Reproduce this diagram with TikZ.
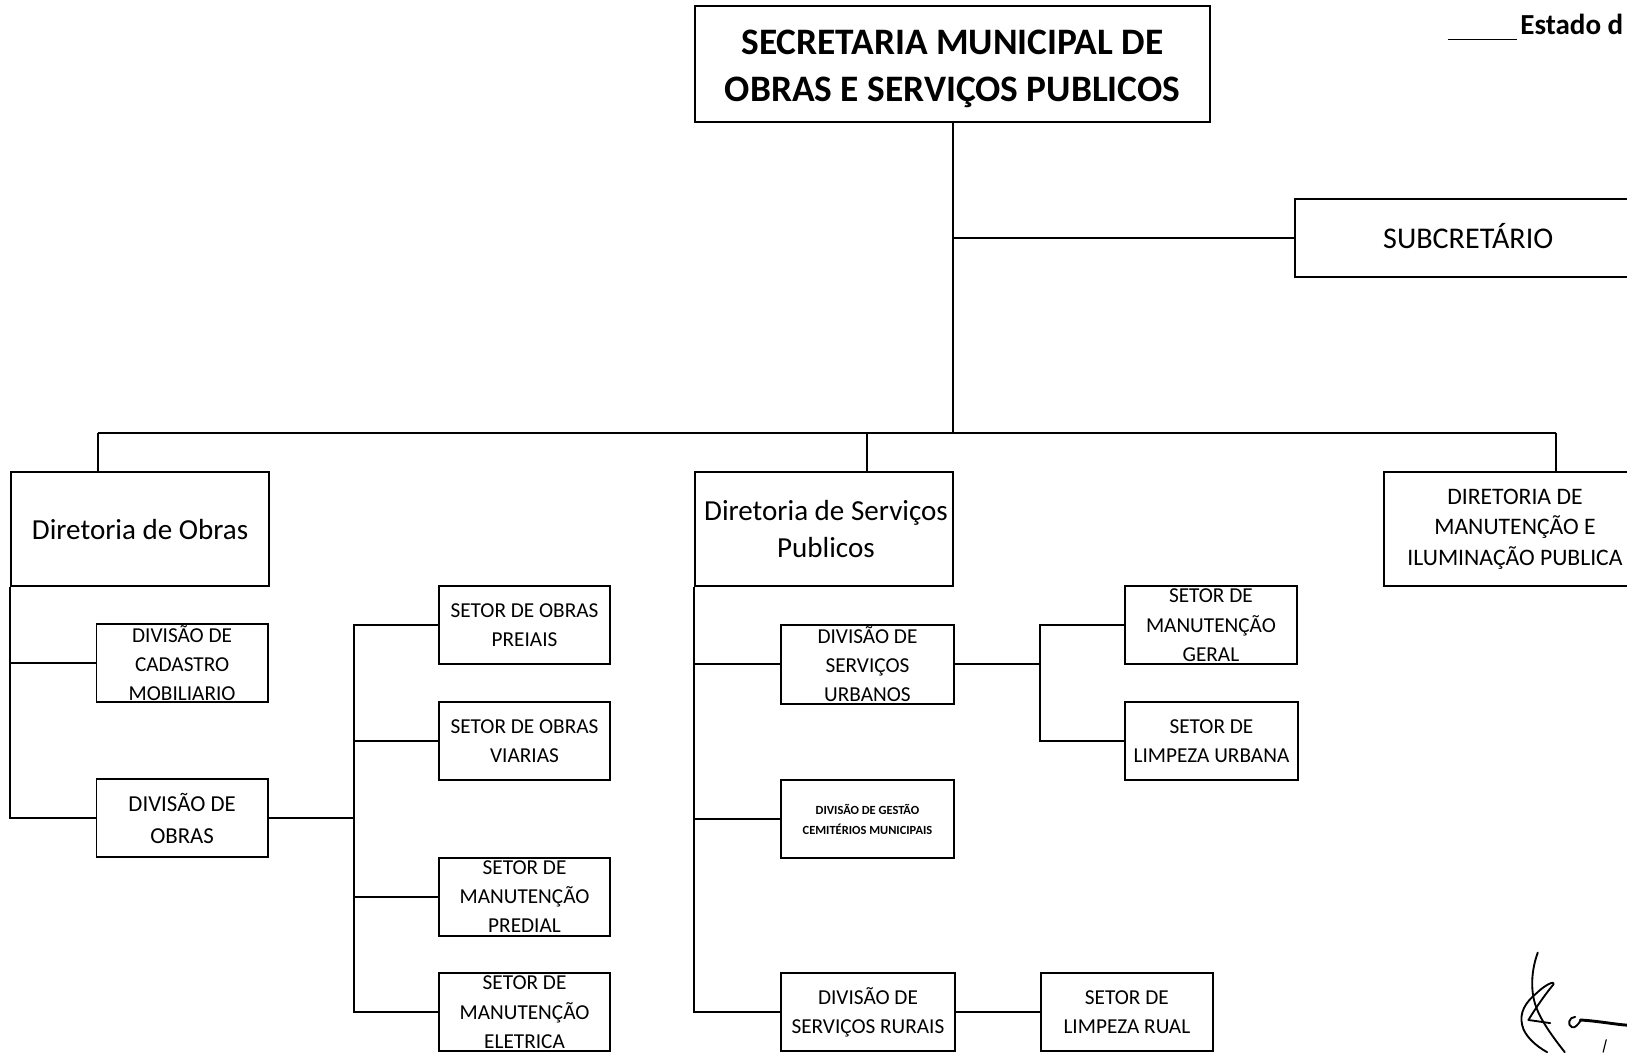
\documentclass[tikz,border=0pt]{standalone}
\usepackage{fontspec}
\setmainfont{Carlito}
\begin{document}
\begin{tikzpicture}[x=1pt,y=-1pt,
  box/.style={draw, line width=1.9pt, inner sep=0pt, align=center},
  bigbox/.style={box, minimum width=248pt, minimum height=110pt},
  smallbox/.style={box, minimum width=165pt, minimum height=75pt, font=\fontsize{20.5}{28}\selectfont},
  link/.style={line width=1.9pt},
  sig/.style={line width=1.8pt, line cap=round, line join=round}]
\useasboundingbox (0,0) rectangle (1568,1014);
\clip (0,0) rectangle (1568,1014);
\fill[white] (0,0) rectangle (1568,1014);

% header
\draw[line width=1.6pt] (1395,38) -- (1462,38);
\node[anchor=base west, inner sep=0pt, font=\bfseries\fontsize{28}{32}\selectfont] (estado) at (1465,33) {Estado d};

% top level
\node[box, minimum width=496pt, minimum height=112pt, font=\bfseries\fontsize{36}{45}\selectfont] (sec) at (918,62)
  {\rule{0pt}{32pt}SECRETARIA MUNICIPAL DE\\OBRAS E SERVIÇOS PUBLICOS};
\node[box, minimum width=334pt, minimum height=75pt, font=\fontsize{29}{36}\selectfont] (sub) at (1415,229.5) {SUBCRETÁRIO\rule[-4pt]{0pt}{0pt}};

% directorates
\node[bigbox, font=\fontsize{28}{36}\selectfont] (dob) at (135,510) {Diretoria de Obras};
\node[bigbox, font=\fontsize{28}{36}\selectfont] (dsp) at (794,510) {\hspace*{4pt}Diretoria de Serviços\\\hspace*{4pt}Publicos};
\node[bigbox, minimum width=252pt, font=\fontsize{22.8}{29.5}\selectfont] (dmi) at (1460,510)
  {DIRETORIA DE\\MANUTENÇÃO E\\ILUMINAÇÃO PUBLICA};

% Diretoria de Obras
\node[smallbox] (cad) at (175.5,639) {DIVISÃO DE\\CADASTRO\\MOBILIARIO};
\node[smallbox, font=\fontsize{22}{31}\selectfont] (dvo) at (175.5,788.5) {DIVISÃO DE\\OBRAS};
\node[smallbox] (sop) at (505.5,602.5) {SETOR DE OBRAS\\PREIAIS};
\node[smallbox] (sov) at (505.5,714.5) {SETOR DE OBRAS\\VIARIAS};
\node[smallbox] (smp) at (505.5,864.5) {SETOR DE\\MANUTENÇÃO\\PREDIAL};
\node[smallbox] (sme) at (505.5,975.5) {SETOR DE\\MANUTENÇÃO\\ELETRICA};

% Diretoria de Servicos Publicos
\node[smallbox, minimum width=166pt, minimum height=76pt] (dsu) at (836,640) {DIVISÃO DE\\SERVIÇOS\\URBANOS};
\node[smallbox, minimum width=166pt, font=\bfseries\fontsize{12}{19}\selectfont] (dgc) at (836,789.5)
  {DIVISÃO DE GESTÃO\\CEMITÉRIOS MUNICIPAIS};
\node[smallbox, minimum width=167pt] (dsr) at (836.5,975.5) {DIVISÃO DE\\SERVIÇOS RURAIS};
\node[smallbox, minimum width=166pt] (smg) at (1167,602.5) {SETOR DE\\MANUTENÇÃO\\GERAL};
\node[smallbox, minimum width=167pt] (slu) at (1167.5,714.5) {SETOR DE\\LIMPEZA URBANA};
\node[smallbox, minimum width=166pt] (slr) at (1086,975.5) {SETOR DE\\LIMPEZA RUAL};

% trunk and bus
\coordinate (jb) at (918,417);
\coordinate (busL) at (94,417);
\coordinate (busM) at (836,417);
\coordinate (busR) at (1500,417);
\draw[link] (sec.south) -- (jb);
\draw[link] (sec.south |- sub.west) -- (sub.west);
\draw[link] (busL) -- (busR);
\draw[link] (busL) -- (busL |- dob.north);
\draw[link] (busM) -- (busM |- dsp.north);
\draw[link] (busR) -- (busR |- dmi.north);

% Obras branch
\draw[link] (dob.south west) |- (dvo.west);
\draw[link] (dob.south west |- cad.west) -- (cad.west);
\coordinate (kob) at (341,0);
\draw[link] (dvo.east) -- (dvo.east -| kob);
\draw[link] (sop.west) -| (kob |- sme.west) -- (sme.west);
\draw[link] (sov.west) -- (sov.west -| kob);
\draw[link] (smp.west) -- (smp.west -| kob);

% Servicos branch
\draw[link] (dsp.south west) |- (dsr.west);
\draw[link] (dsp.south west |- dsu.west) -- (dsu.west);
\draw[link] (dsp.south west |- dgc.west) -- (dgc.west);
\coordinate (ksu) at (1002,0);
\draw[link] (dsu.east) -- (dsu.east -| ksu);
\draw[link] (smg.west) -| (ksu |- slu.west) -- (slu.west);
\draw[link] (dsr.east) -- (slr.west);

% signature
\draw[sig] (1482,918) .. controls (1474,940) and (1476,960) .. (1481,972)
  .. controls (1486,985) and (1497,1000) .. (1508,1014);
\draw[sig] (1473,983) -- (1494,986);
\draw[sig] (1473,983) .. controls (1482,968) and (1494,952) .. (1497,949)
  .. controls (1499,944) and (1488,950) .. (1481,957)
  .. controls (1470,966) and (1464,976) .. (1467,988)
  .. controls (1469,998) and (1480,1008) .. (1491,1014);
\draw[sig] (1518,980) .. controls (1512,980) and (1510,988) .. (1515,990)
  .. controls (1518,991) and (1521,987) .. (1523,984);
\draw[sig, line width=2.8pt] (1523,983) .. controls (1540,984) and (1555,987) .. (1568,988);
\draw[sig, line width=1.1pt] (1548,1002) -- (1545,1014);
\end{tikzpicture}
\end{document}
